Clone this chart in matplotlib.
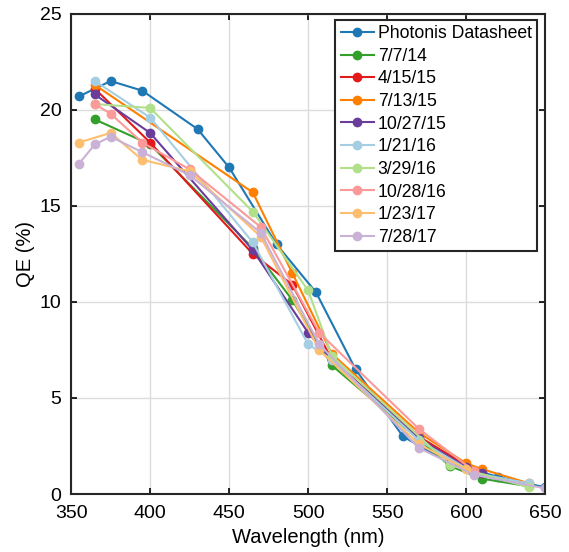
import matplotlib
matplotlib.use("Agg")
import matplotlib.pyplot as plt

plt.rcParams['font.family'] = ['Liberation Sans', 'DejaVu Sans']

labels = ["Photonis Datasheet", "7/7/14", "4/15/15", "7/13/15", "10/27/15",
          "1/21/16", "3/29/16", "10/28/16", "1/23/17", "7/28/17"]
colors = ["#1f78b4", "#33a02c", "#e31a1c", "#ff7f00", "#6a3d9a",
          "#a6cee3", "#b2df8a", "#fb9a99", "#fdbf6f", "#cab2d6"]

# wavelength (nm) and QE (%) for each series
wl_datasheet = [355, 375, 395, 430, 450, 480, 505, 530, 560, 590, 620, 650]
qe_datasheet = [20.7, 21.5, 21.0, 19.0, 17.0, 13.0, 10.5, 6.5, 3.0, 1.6, 0.9, 0.35]

wl_140707 = [365, 400, 465, 490, 515, 590, 610, 640]
qe_140707 = [19.5, 18.2, 12.8, 10.1, 6.7, 1.45, 0.8, 0.4]

wl_150415 = [365, 400, 465, 490, 515, 570, 600, 610]
qe_150415 = [21.1, 18.3, 12.5, 10.9, 7.0, 3.0, 1.5, 1.1]

wl_150713 = [365, 465, 490, 515, 570, 600, 610, 640]
qe_150713 = [21.3, 15.7, 11.5, 7.3, 3.2, 1.6, 1.3, 0.55]

wl_151027 = [365, 400, 465, 500, 515, 570, 600, 610]
qe_151027 = [20.8, 18.8, 12.7, 8.4, 7.0, 2.9, 1.4, 1.1]

wl_160121 = [365, 400, 465, 500, 515, 570, 605, 640]
qe_160121 = [21.5, 19.6, 13.1, 7.8, 7.0, 2.8, 1.1, 0.55]

wl_160329 = [365, 400, 465, 500, 515, 590, 640]
qe_160329 = [20.3, 20.1, 14.7, 10.6, 7.2, 1.5, 0.35]

wl_161028 = [365, 375, 395, 425, 470, 507, 570, 605]
qe_161028 = [20.3, 19.8, 18.3, 16.9, 13.9, 8.4, 3.4, 1.2]

wl_170123 = [355, 375, 395, 425, 470, 507, 570, 600]
qe_170123 = [18.3, 18.8, 17.4, 16.8, 13.4, 7.5, 2.6, 1.3]

wl_170728 = [355, 365, 375, 395, 425, 470, 507, 570, 605, 650]
qe_170728 = [17.2, 18.2, 18.6, 17.8, 16.6, 13.6, 7.8, 2.4, 1.0, 0.3]

series = [(wl_datasheet, qe_datasheet), (wl_140707, qe_140707), (wl_150415, qe_150415),
          (wl_150713, qe_150713), (wl_151027, qe_151027), (wl_160121, qe_160121),
          (wl_160329, qe_160329), (wl_161028, qe_161028), (wl_170123, qe_170123),
          (wl_170728, qe_170728)]

fig = plt.figure(figsize=(5.69, 5.52), dpi=100)
ax = fig.add_axes([0.125, 0.105, 0.833, 0.87])

for (wl, qe), lab, col in zip(series, labels, colors):
    ax.plot(wl, qe, '-o', color=col, label=lab, linewidth=1.5, markersize=6)

ax.set_xlim(350, 650)
ax.set_ylim(0, 25)
ax.set_xticks(range(350, 651, 50))
ax.set_yticks(range(0, 26, 5))
ax.grid(True, color='#dcdcdc', linewidth=1.0)
ax.set_axisbelow(True)
ax.tick_params(direction='in', top=True, right=True, labelsize=14, length=4, width=1.2)
ax.tick_params(axis='x', pad=8)
ax.tick_params(axis='y', pad=7)
for sp in ax.spines.values():
    sp.set_linewidth(1.5)
    sp.set_color('#262626')

ax.set_xlabel("Wavelength (nm)", fontsize=14.5, labelpad=4)
ax.set_ylabel("QE (%)", fontsize=14.5, labelpad=3)

leg = ax.legend(loc='upper right', bbox_to_anchor=(0.983, 0.9875), borderaxespad=0,
                fontsize=12.7, labelspacing=0.32, handlelength=1.9, handletextpad=0.2,
                borderpad=0.3, fancybox=False, framealpha=1)
leg.get_frame().set_edgecolor('#262626')
leg.get_frame().set_linewidth(1.5)

fig.savefig("out.png", dpi=100)
